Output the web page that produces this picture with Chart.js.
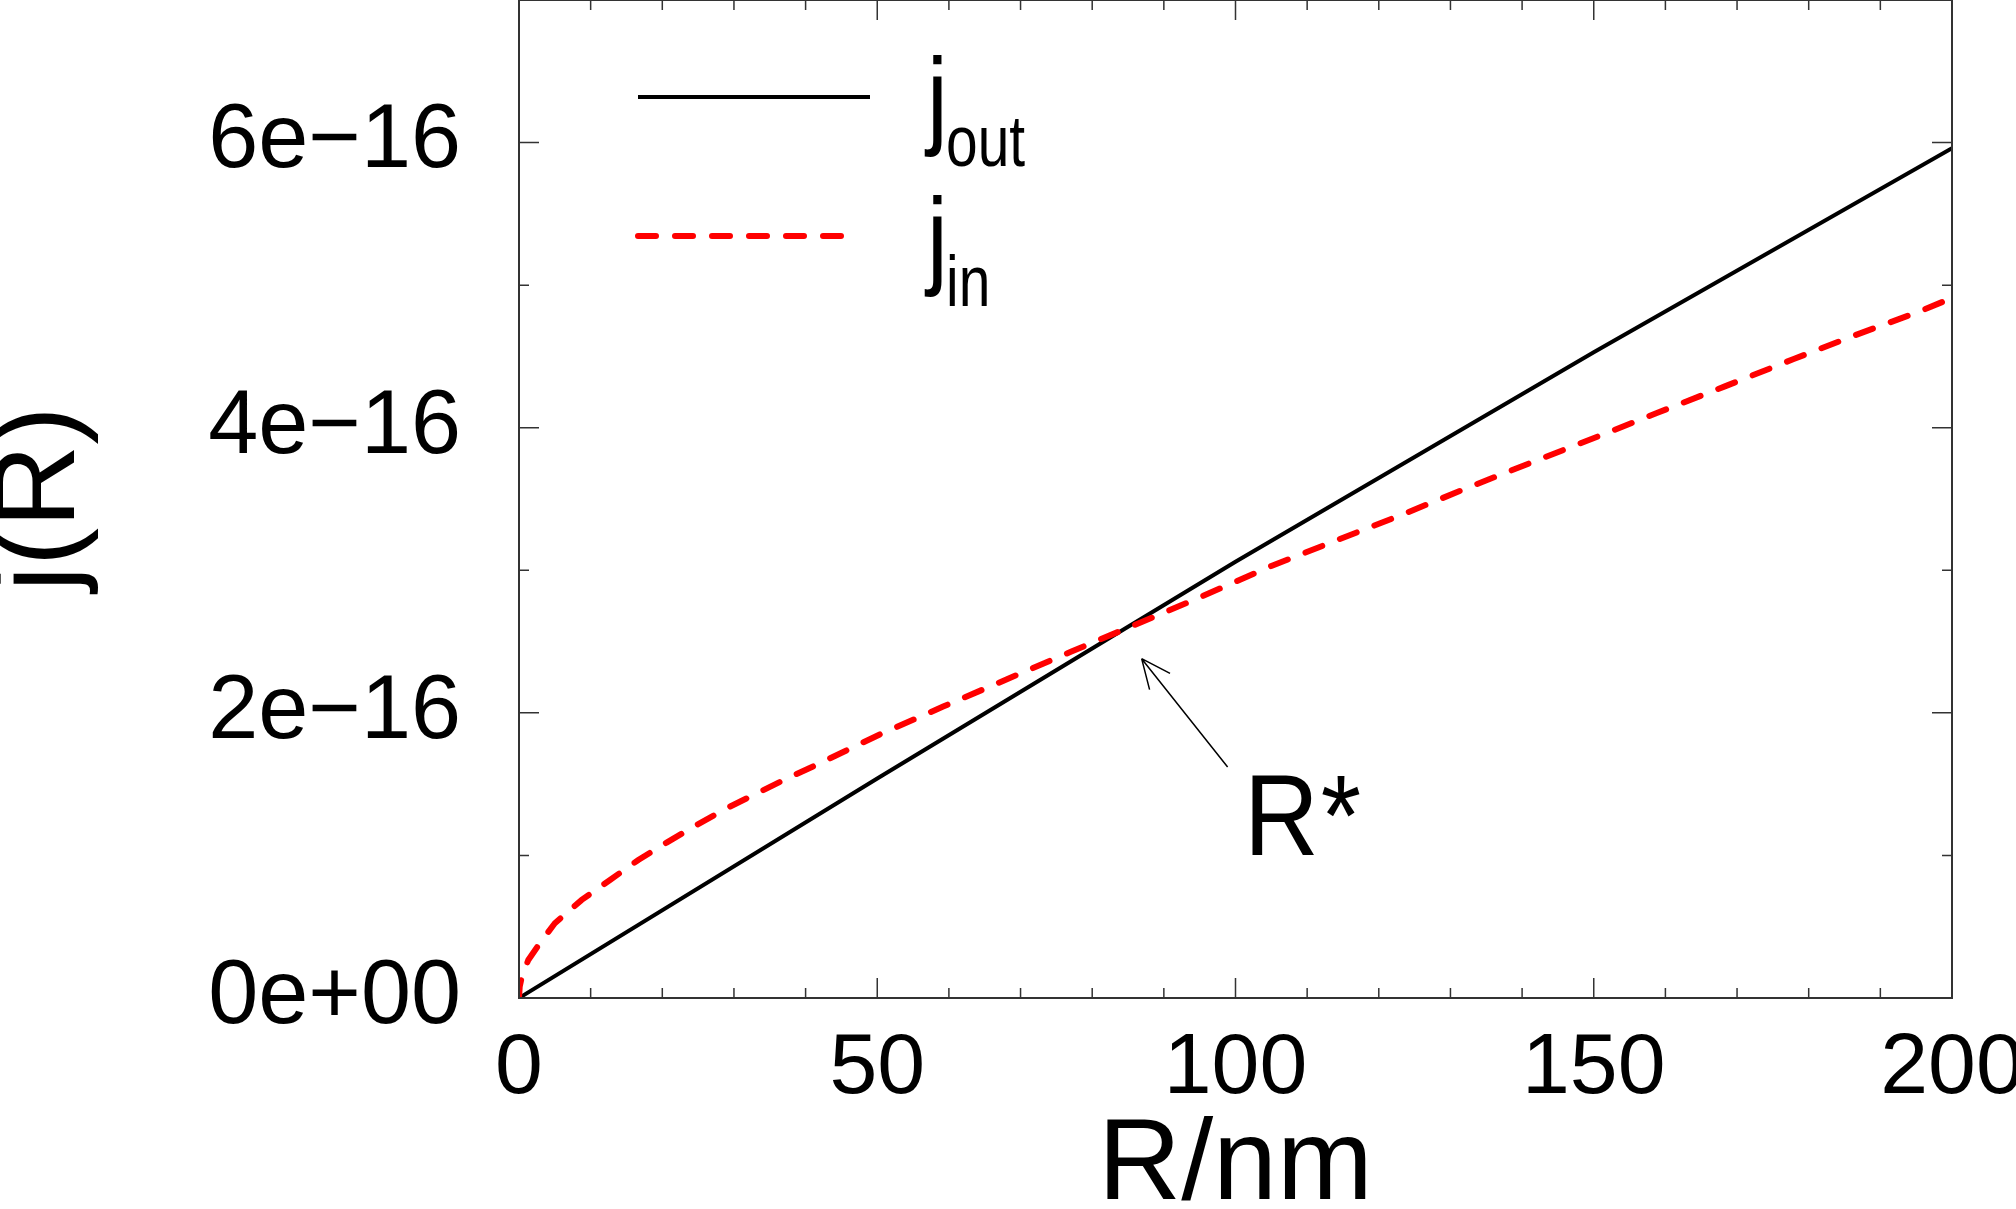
<!DOCTYPE html>
<html>
<head>
<meta charset="utf-8">
<script src="https://cdn.jsdelivr.net/npm/chart.js@4.4.1/dist/chart.umd.min.js"></script>
<style>
  html, body { margin: 0; padding: 0; background: #fff; overflow: hidden; }
  canvas { display: block; }
</style>
</head>
<body>
<canvas id="graph" width="2016" height="1209"></canvas>
<script>
// values in units of 1e-16
const rOut = [0, 50, 100, 150, 200];
const jOut = [0, 1.54, 3.06, 4.53, 5.96];

const rIn = [0, 0.1, 0.4, 1.3, 2.9, 5, 8.75, 12.7, 16.65, 20.6, 24.8, 29, 33.2, 37.4, 41.5,
  50.4, 59.2, 68.1, 77.1, 86, 94.1, 105, 114.1, 123.2, 132.3, 141.1, 150.4, 158.8, 168.3,
  177.9, 186.7, 195.5, 200];
const jIn = [0, 0.08, 0.15, 0.267, 0.384, 0.524, 0.688, 0.828, 0.968, 1.09, 1.214, 1.331, 1.436, 1.54, 1.635,
  1.85, 2.044, 2.236, 2.43, 2.618, 2.79, 3.03, 3.21, 3.389, 3.577, 3.752, 3.935, 4.103, 4.29,
  4.482, 4.653, 4.816, 4.91];

const xLabelValues = [0, 50, 100, 150, 200];
const yLabelValues = [0, 2, 4, 6];
const yLabelTexts = ['0e+00', '2e\u221216', '4e\u221216', '6e\u221216'];

// R* arrow (data coords): tip, tail, text anchor
const starTip = [86.9, 2.38];
const starTail = [98.9, 1.62];
const starText = [102.3, 1.0];

const family = "'Liberation Sans', Arial, sans-serif";

function drawText(ctx, str, x, y, size, sx) {
  ctx.save();
  ctx.font = size + 'px ' + family;
  ctx.translate(x, y);
  ctx.scale(sx, 1);
  ctx.fillText(str, 0, 0);
  const w = ctx.measureText(str).width * sx;
  ctx.restore();
  return w;
}

const frameTicks = {
  id: 'frameTicks',
  afterDatasetsDraw(chart) {
    const { ctx, chartArea: a, scales: { x, y } } = chart;
    ctx.save();
    ctx.strokeStyle = '#333';
    ctx.lineWidth = 1.5;
    ctx.beginPath();
    x.ticks.forEach(t => {
      const px = x.getPixelForValue(t.value);
      const len = t.value % 50 === 0 ? 20 : 10;
      ctx.moveTo(px, a.bottom); ctx.lineTo(px, a.bottom - len);
      ctx.moveTo(px, a.top); ctx.lineTo(px, a.top + len);
    });
    y.ticks.forEach(t => {
      const py = y.getPixelForValue(t.value);
      const len = t.value % 2 === 0 ? 20 : 10;
      ctx.moveTo(a.left, py); ctx.lineTo(a.left + len, py);
      ctx.moveTo(a.right, py); ctx.lineTo(a.right - len, py);
    });
    ctx.stroke();
    ctx.lineWidth = 2;
    ctx.strokeRect(a.left, a.top, a.right - a.left, a.bottom - a.top);
    ctx.restore();
  },
  afterDraw(chart) {
    const { ctx, scales: { x, y } } = chart;
    const ds = chart.data.datasets;
    ctx.save();
    // legend
    const rows = [
      { d: ds[1], y: 97, x2: 870, sub: 'out', base: 134 },
      { d: ds[0], y: 236, x2: 858, sub: 'in', base: 274 }
    ];
    rows.forEach(r => {
      ctx.strokeStyle = r.d.borderColor;
      ctx.lineWidth = r.d.borderWidth;
      ctx.lineCap = r.d.borderCapStyle || 'butt';
      ctx.setLineDash(r.d.borderDash || []);
      ctx.beginPath();
      ctx.moveTo(638, r.y); ctx.lineTo(r.x2, r.y);
      ctx.stroke();
      ctx.setLineDash([]);
      ctx.fillStyle = '#000';
      drawText(ctx, 'j', 927, r.base, 110, 0.85);
      drawText(ctx, r.sub, 946, r.base + 32, 72, 0.79);
    });
    // R* annotation
    const tx = x.getPixelForValue(starTip[0]), ty = y.getPixelForValue(starTip[1]);
    const sx = x.getPixelForValue(starTail[0]), sy = y.getPixelForValue(starTail[1]);
    ctx.strokeStyle = '#000';
    ctx.lineWidth = 1.5;
    ctx.lineCap = 'butt';
    ctx.beginPath();
    ctx.moveTo(sx, sy); ctx.lineTo(tx, ty);
    const ang = Math.atan2(sy - ty, sx - tx);
    [0.42, -0.42].forEach(da => {
      ctx.moveTo(tx, ty);
      ctx.lineTo(tx + 32 * Math.cos(ang + da), ty + 32 * Math.sin(ang + da));
    });
    ctx.stroke();
    ctx.fillStyle = '#000';
    const lx = x.getPixelForValue(starText[0]), ly = y.getPixelForValue(starText[1]);
    const w = drawText(ctx, 'R', lx - 8, ly, 115, 0.9);
    drawText(ctx, '*', lx - 8 + w + 2, ly, 115, 0.9);
    ctx.restore();
  }
};

new Chart(document.getElementById('graph'), {
  type: 'line',
  data: {
    datasets: [
      {
        label: 'j_in',
        data: rIn.map((r, i) => ({ x: r, y: jIn[i] })),
        borderColor: '#ff0000',
        borderWidth: 6,
        borderDash: [18, 19],
        borderCapStyle: 'round',
        pointRadius: 0,
        tension: 0,
        fill: false
      },
      {
        label: 'j_out',
        data: rOut.map((r, i) => ({ x: r, y: jOut[i] })),
        borderColor: '#000000',
        borderWidth: 4,
        pointRadius: 0,
        tension: 0,
        fill: false
      }
    ]
  },
  options: {
    responsive: false,
    animation: false,
    devicePixelRatio: 1,
    layout: { padding: { left: 0, right: 64, top: 0, bottom: 0 } },
    plugins: { legend: { display: false }, tooltip: { enabled: false } },
    scales: {
      x: {
        type: 'linear', min: 0, max: 200,
        grid: { display: false, drawTicks: false },
        border: { display: false },
        ticks: {
          stepSize: 10, autoSkip: false, maxRotation: 0, padding: 20, color: '#000',
          font: { family, size: 86 },
          callback: v => xLabelValues.includes(v) ? String(v) : ''
        },
        title: { display: true, text: 'R/nm', color: '#000', padding: 0, font: { family, size: 115, lineHeight: 0.73 } },
        afterFit(s) { s.height = 211; s.paddingLeft = 0; s.paddingRight = 0; }
      },
      y: {
        type: 'linear', min: 0, max: 7,
        grid: { display: false, drawTicks: false },
        border: { display: false },
        ticks: {
          stepSize: 1, autoSkip: false, padding: 58, color: '#000',
          font: { family, size: 90 },
          callback: v => {
            const i = yLabelValues.indexOf(v);
            return i >= 0 ? yLabelTexts[i] : '';
          }
        },
        title: { display: true, text: 'j(R)', color: '#000', padding: 0, font: { family, size: 115, lineHeight: 0.73 } },
        afterFit(s) { s.width = 519; s.paddingTop = 0; s.paddingBottom = 0; }
      }
    }
  },
  plugins: [frameTicks]
});
</script>
</body>
</html>
